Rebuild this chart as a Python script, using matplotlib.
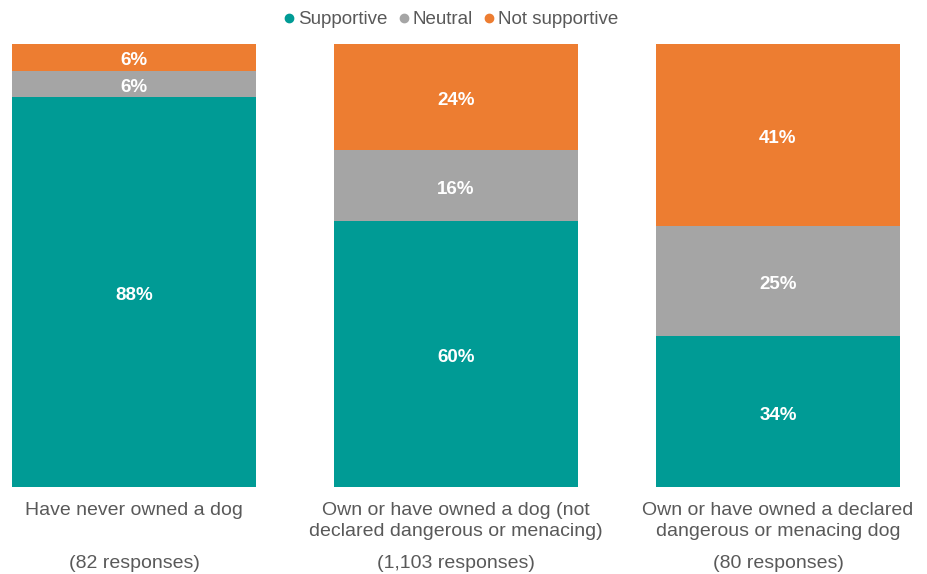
import numpy as np
import matplotlib.pyplot as plt

plt.rcParams['font.family'] = ['Liberation Sans', 'DejaVu Sans']

groups = ['Have never owned a dog',
          'Own or have owned a dog (not\ndeclared dangerous or menacing)',
          'Own or have owned a declared\ndangerous or menacing dog']
responses = ['(82 responses)', '(1,103 responses)', '(80 responses)']

supportive = [88, 60, 34]
neutral = [6, 16, 25]
not_supportive = [6, 24, 41]

series = [('Supportive', supportive, '#009B95'),
          ('Neutral', neutral, '#A5A5A5'),
          ('Not supportive', not_supportive, '#ED7D31')]

fig = plt.figure(figsize=(9.27, 5.74), dpi=100)
ax = fig.add_axes([12 / 927, 87 / 574, 888 / 927, 443 / 574])

index = np.arange(len(groups))
bar_width = 0.758
bottom = np.zeros(len(groups))

for name, vals, col in series:
    vals = np.array(vals, dtype=float)
    ax.bar(index, vals, bar_width, bottom=bottom, color=col, label=name)
    for x, b, v in zip(index, bottom, vals):
        ax.annotate('%d%%' % v, (x, b + v / 2), xytext=(0, -2.5),
                    textcoords='offset points', ha='center', va='center',
                    color='white', fontsize=13.5, fontweight='bold')
    bottom += vals

ax.set_xlim(-bar_width / 2, len(groups) - 1 + bar_width / 2)
ax.set_ylim(0, 100)
ax.axis('off')

# category labels and response counts under each bar
for x, g, r in zip(index, groups, responses):
    ax.annotate(g, (x, 0), xytext=(0, -11), textcoords='offset points',
                ha='center', va='top', fontsize=14, color='#595959',
                linespacing=1.3)
    ax.annotate(r, (x, 0), xytext=(0, -49), textcoords='offset points',
                ha='center', va='top', fontsize=14, color='#595959')

fig.legend(loc='upper center', bbox_to_anchor=(0.487, 1.01), ncol=3,
           frameon=False, fontsize=13.5, handlelength=0.5, handletextpad=0.25,
           columnspacing=0.6, labelcolor='#595959',
           handles=[plt.Line2D([], [], marker='o', ls='', color=c, markersize=6)
                    for _, _, c in series],
           labels=[n for n, _, _ in series])

fig.savefig('out.png', dpi=100)
